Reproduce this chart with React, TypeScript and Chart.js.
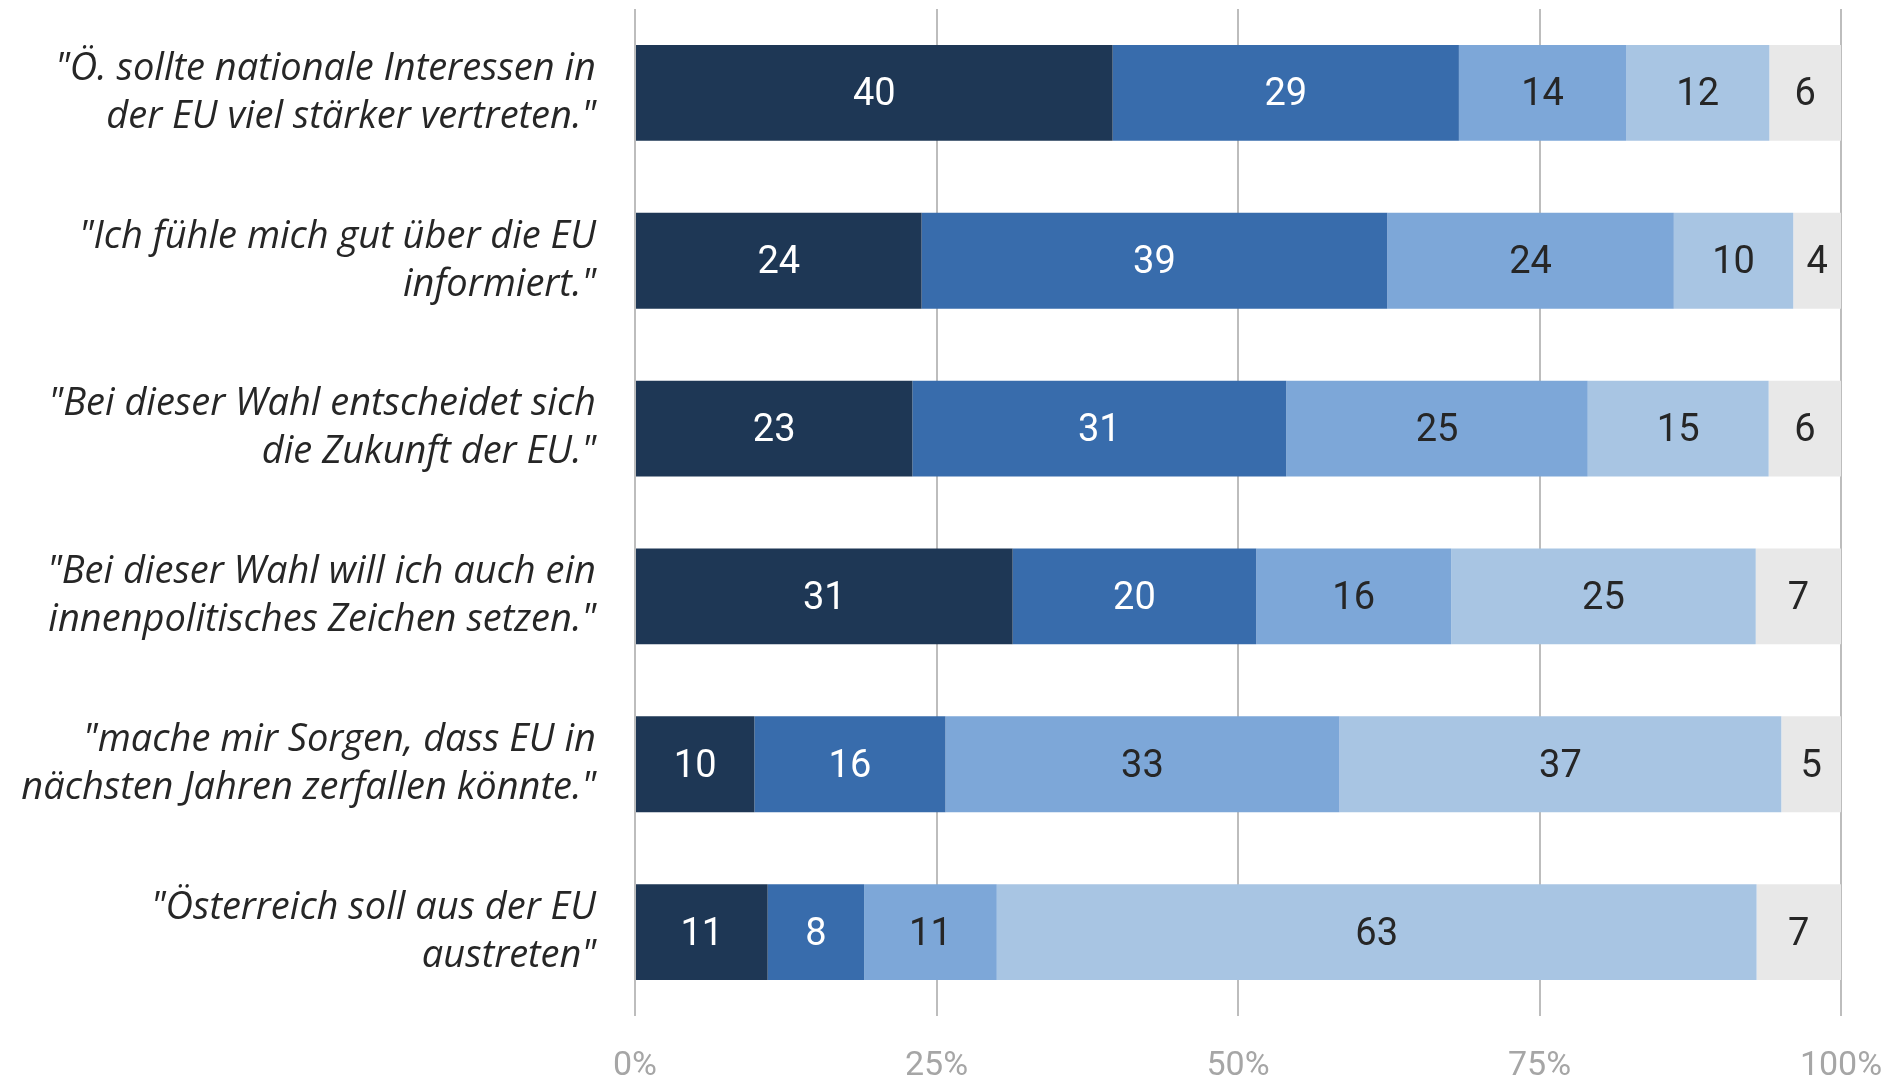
import React, { useEffect, useRef } from "react";
import { Chart, registerables } from "chart.js";

Chart.register(...registerables);

const categories: string[][] = [
  ['"Ö. sollte nationale Interessen in', 'der EU viel stärker vertreten."'],
  ['"Ich fühle mich gut über die EU', 'informiert."'],
  ['"Bei dieser Wahl entscheidet sich', 'die Zukunft der EU."'],
  ['"Bei dieser Wahl will ich auch ein', 'innenpolitisches Zeichen setzen."'],
  ['"mache mir Sorgen, dass EU in', 'nächsten Jahren zerfallen könnte."'],
  ['"Österreich soll aus der EU', 'austreten"'],
];

const seriesNames = ["stimme sehr zu", "stimme eher zu", "stimme eher nicht zu", "stimme gar nicht zu", "weiß nicht / k.A."];
const seriesSehr = [40, 24, 23, 31, 10, 11];
const seriesEher = [29, 39, 31, 20, 16, 8];
const seriesEherNicht = [14, 24, 25, 16, 33, 11];
const seriesGarNicht = [12, 10, 15, 25, 37, 63];
const seriesKA = [6, 4, 6, 7, 5, 7];

const tickLabels = ["0%", "25%", "50%", "75%", "100%"];

const colors = ["#1e3755", "#386cac", "#7da7d8", "#a8c5e3", "#e8e8e8"];
const labelColors = ["#ffffff", "#ffffff", "#262626", "#262626", "#262626"];

const allSeries = [seriesSehr, seriesEher, seriesEherNicht, seriesGarNicht, seriesKA];

const rowTotals = categories.map((_, i) => allSeries.reduce((s, arr) => s + arr[i], 0));

const valueLabelPlugin = {
  id: "valueLabels",
  afterDatasetsDraw(chart: any) {
    const ctx = chart.ctx;
    ctx.save();
    ctx.font = "38px Roboto";
    ctx.textAlign = "center";
    ctx.textBaseline = "middle";
    chart.data.datasets.forEach((ds: any, di: number) => {
      const meta = chart.getDatasetMeta(di);
      meta.data.forEach((el: any, i: number) => {
        const p = el.getCenterPoint();
        ctx.fillStyle = labelColors[di];
        ctx.fillText(String(ds.raw[i]), p.x, p.y + 3);
      });
    });
    ctx.restore();
  },
};

const zeroPadding = (scale: any) => {
  scale.paddingTop = 0;
  scale.paddingBottom = 0;
  scale.paddingLeft = 0;
  scale.paddingRight = 0;
};

export default function App() {
  const ref = useRef<HTMLCanvasElement | null>(null);

  useEffect(() => {
    if (!ref.current) return;
    const chart = new Chart(ref.current, {
      type: "bar",
      data: {
        labels: categories,
        datasets: allSeries.map((arr, di) => ({
          label: seriesNames[di],
          data: arr.map((v, i) => (v / rowTotals[i]) * 100),
          raw: arr,
          backgroundColor: colors[di],
          borderWidth: 0,
          barPercentage: 0.571,
          categoryPercentage: 1,
        })) as any,
      },
      options: {
        indexAxis: "y",
        animation: false,
        responsive: true,
        maintainAspectRatio: false,
        layout: { padding: { top: 9, right: 55, left: 0, bottom: 0 } },
        plugins: {
          legend: { display: false },
          tooltip: { enabled: false },
        },
        scales: {
          x: {
            stacked: true,
            min: 0,
            max: 100,
            ticks: {
              stepSize: 25,
              padding: 30,
              color: "#a6a6a6",
              font: { family: "Roboto", size: 34 },
              maxRotation: 0,
              callback: (_v: any, idx: number) => tickLabels[idx],
            },
            grid: { color: "#bdbdbd", lineWidth: 2, drawTicks: false },
            border: { display: false },
            afterFit: (scale: any) => {
              scale.height = 62;
              zeroPadding(scale);
            },
          },
          y: {
            stacked: true,
            ticks: {
              padding: 39,
              color: "#262626",
              font: { family: "'Open Sans'", size: 38, style: "italic", lineHeight: "48px" },
            },
            grid: { display: false, drawTicks: false },
            border: { display: false },
            afterFit: (scale: any) => {
              scale.width = 635;
              zeroPadding(scale);
            },
          },
        },
      },
      plugins: [valueLabelPlugin],
    });
    return () => chart.destroy();
  }, []);

  return (
    <div style={{ position: "fixed", left: 0, top: 0, width: 1896, height: 1078, background: "#fff" }}>
      <canvas ref={ref} />
    </div>
  );
}
